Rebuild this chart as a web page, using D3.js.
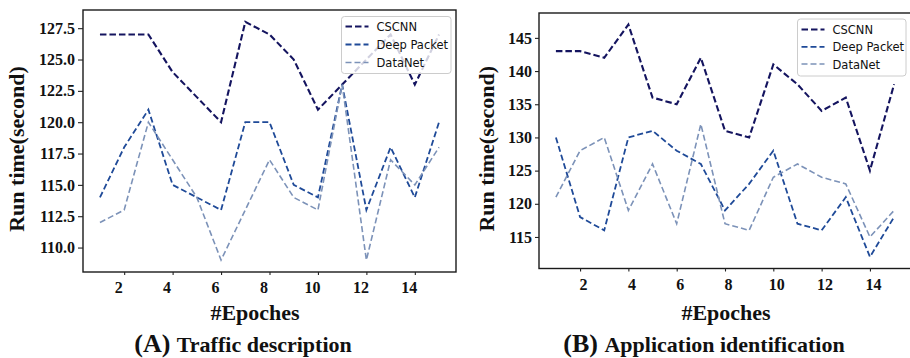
<!DOCTYPE html>
<html>
<head>
<meta charset="utf-8">
<script src="https://cdn.jsdelivr.net/npm/d3@7/dist/d3.min.js"></script>
<style>
  html, body { margin: 0; padding: 0; background: #fff; }
  svg { display: block; }
</style>
</head>
<body>
<svg id="chart" width="910" height="358"></svg>
<script>
// Epoch indices shared by both panels
const epochs = [1, 2, 3, 4, 5, 6, 7, 8, 9, 10, 11, 12, 13, 14, 15];

// (A) Traffic description — run time per epoch (seconds)
const trafficCSCNN      = [127, 127, 127, 124, 122, 120, 128, 127, 125, 121, 123, 125, 127, 123, 127];
const trafficDeepPacket = [114, 118, 121, 115, 114, 113, 120, 120, 115, 114, 123, 113, 118, 114, 120];
const trafficDataNet    = [112, 113, 120, 117, 114, 109, 113, 117, 114, 113, 123, 109, 117, 115, 118];

// (B) Application identification — run time per epoch (seconds)
const appCSCNN      = [143, 143, 142, 147, 136, 135, 142, 131, 130, 141, 138, 134, 136, 125, 138];
const appDeepPacket = [130, 118, 116, 130, 131, 128, 126, 119, 123, 128, 117, 116, 121, 112, 118];
const appDataNet    = [121, 128, 130, 119, 126, 117, 132, 117, 116, 124, 126, 124, 123, 115, 119];

// Axis ticks
const xTicks       = [2, 4, 6, 8, 10, 12, 14];
const trafficTicks = [110, 112.5, 115, 117.5, 120, 122.5, 125, 127.5];
const appTicks     = [115, 120, 125, 130, 135, 140, 145];

const seriesNames = ["CSCNN", "Deep Packet", "DataNet"];

// Line styles per series
const styles = {
  "CSCNN":       { color: "#14145f", width: 2.1, dash: "6.5,3" },
  "Deep Packet": { color: "#1f4a98", width: 1.8, dash: "6,3" },
  "DataNet":     { color: "#7c92b8", width: 1.6, dash: "6,3" }
};

const svg = d3.select("#chart");
const serif = "'Liberation Serif', 'Times New Roman', serif";

// Autoscaled extent with a 5% margin on each side
function padded(arrays) {
  const lo = d3.min(arrays, a => d3.min(a));
  const hi = d3.max(arrays, a => d3.max(a));
  const m = (hi - lo) * 0.05;
  return [lo - m, hi + m];
}

const panels = [
  {
    left: 83, right: 456, top: 10, bottom: 272,
    yTicks: trafficTicks, yFmt: d3.format(".1f"),
    series: [trafficCSCNN, trafficDeepPacket, trafficDataNet],
    yLabelX: 24, tickLen: 5, xLabelDx: -6,
    titleX: 255,
    legend: { x: 341.5, y: 16.5, w: 109.5, h: 57, rows: [26.5, 44.5, 62.5] },
    caption: { x: 243, letter: "(A)", text: "Traffic description" }
  },
  {
    left: 539, right: 911, top: 13, bottom: 268.5,
    yTicks: appTicks, yFmt: d3.format("d"),
    series: [appCSCNN, appDeepPacket, appDataNet],
    yLabelX: 494, tickLen: 4, xLabelDx: 3,
    titleX: 726,
    legend: { x: 797.5, y: 19, w: 108.5, h: 57, rows: [29.5, 46.8, 64] },
    caption: { x: 704, letter: "(B)", text: "Application identification" }
  }
];

panels.forEach(p => {
  const x = d3.scaleLinear().domain([0.3, 15.7]).range([p.left, p.right]);
  const y = d3.scaleLinear().domain(padded(p.series)).range([p.bottom, p.top]);
  const g = svg.append("g");

  // Series lines
  const line = d3.line().x((d, i) => x(epochs[i])).y(d => y(d));
  p.series.forEach((vals, si) => {
    const st = styles[seriesNames[si]];
    g.append("path")
      .datum(vals)
      .attr("d", line)
      .attr("fill", "none")
      .attr("stroke", st.color)
      .attr("stroke-width", st.width)
      .attr("stroke-dasharray", st.dash)
      .attr("stroke-linejoin", "miter");
  });

  // Plot frame
  g.append("rect")
    .attr("x", p.left).attr("y", p.top)
    .attr("width", p.right - p.left).attr("height", p.bottom - p.top)
    .attr("fill", "none").attr("stroke", "#1a1a1a").attr("stroke-width", 1.4);

  // Y axis
  const yAxis = d3.axisLeft(y).tickValues(p.yTicks).tickFormat(p.yFmt)
    .tickSize(p.tickLen).tickPadding(3);
  const ya = g.append("g").attr("transform", `translate(${p.left},0)`).call(yAxis);
  ya.select(".domain").remove();
  ya.selectAll("line").attr("stroke", "#222").attr("stroke-width", 1.1);
  ya.selectAll("text")
    .attr("font-family", serif).attr("font-weight", "bold")
    .attr("font-size", 16).attr("fill", "#111");

  // X axis
  const xAxis = d3.axisBottom(x).tickValues(xTicks).tickFormat(d3.format("d"))
    .tickSize(3).tickPadding(7);
  const xa = g.append("g").attr("transform", `translate(0,${p.bottom})`).call(xAxis);
  xa.select(".domain").remove();
  xa.selectAll("line").attr("stroke", "#222").attr("stroke-width", 1.1);
  xa.selectAll("text")
    .attr("dx", p.xLabelDx)
    .attr("font-family", serif).attr("font-weight", "bold")
    .attr("font-size", 16).attr("fill", "#111");

  // Axis titles
  g.append("text")
    .attr("transform", `translate(${p.yLabelX},${(p.top + p.bottom) / 2 + 8}) rotate(-90)`)
    .attr("text-anchor", "middle")
    .attr("font-family", serif).attr("font-weight", "bold")
    .attr("font-size", 22).attr("fill", "#111")
    .text("Run time(second)");

  g.append("text")
    .attr("x", p.titleX).attr("y", 320)
    .attr("text-anchor", "middle")
    .attr("font-family", serif).attr("font-weight", "bold")
    .attr("font-size", 22).attr("fill", "#111")
    .text("#Epoches");

  // Panel caption
  const cap = g.append("text")
    .attr("x", p.caption.x).attr("y", 352)
    .attr("text-anchor", "middle")
    .attr("font-family", serif).attr("font-weight", "bold")
    .attr("fill", "#111");
  cap.append("tspan").attr("font-size", 26).text(p.caption.letter + " ");
  cap.append("tspan").attr("font-size", 22).text(p.caption.text);

  // Legend
  const L = p.legend;
  const lg = g.append("g");
  lg.append("rect")
    .attr("x", L.x).attr("y", L.y).attr("width", L.w).attr("height", L.h)
    .attr("rx", 3)
    .attr("fill", "#fff").attr("fill-opacity", 0.8)
    .attr("stroke", "#cccccc").attr("stroke-width", 1);
  seriesNames.forEach((name, i) => {
    const st = styles[name];
    const ry = L.rows[i];
    lg.append("line")
      .attr("x1", L.x + 4).attr("x2", L.x + 27)
      .attr("y1", ry).attr("y2", ry)
      .attr("stroke", st.color).attr("stroke-width", st.width)
      .attr("stroke-dasharray", st.dash);
    const tx = L.x + 35;
    lg.append("text")
      .attr("transform", `translate(${tx},${ry + 4.5}) scale(0.92,1)`)
      .attr("font-family", "'DejaVu Sans', sans-serif")
      .attr("font-size", 12.5).attr("fill", "#111")
      .text(name);
  });
});
</script>
</body>
</html>
